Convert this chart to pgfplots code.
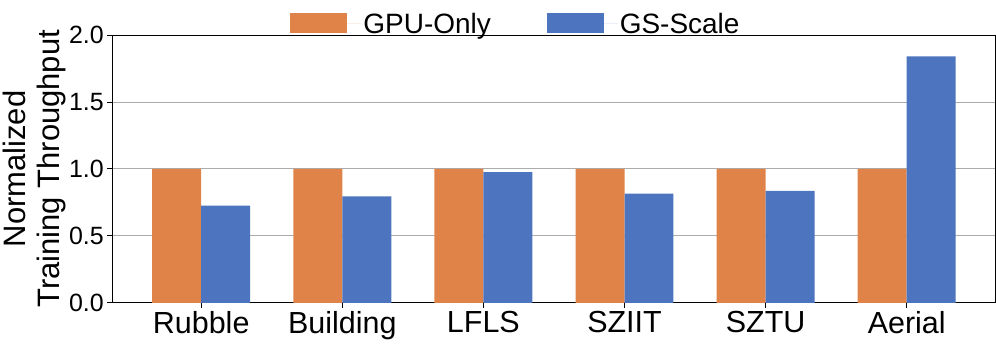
\documentclass[border=0pt]{standalone}
\usepackage{fontspec}
\setmainfont{Liberation Sans}
\usepackage{pgfplots}
\pgfplotsset{compat=1.18}

\definecolor{gpuorange}{RGB}{224,131,72}
\definecolor{gsblue}{RGB}{77,116,190}

\begin{document}
\begin{tikzpicture}
\begin{axis}[
    scale only axis,
    width=884pt, height=268pt,
    xmin=-0.63, xmax=5.63,
    ymin=0, ymax=2.0,
    ytick={0,0.5,1.0,1.5,2.0},
    yticklabel style={/pgf/number format/fixed,/pgf/number format/fixed zerofill,/pgf/number format/precision=1},
    /pgf/number format/assume math mode=true,
    xtick=data,
    xticklabels={Rubble,Building,LFLS,SZIIT,SZTU,Aerial},
    x tick label style={font=\fontsize{30.5}{33}\selectfont},
    y tick label style={font=\fontsize{25}{28}\selectfont},
    tick align=outside,
    ytick pos=left, xtick pos=bottom,
    major tick length=5pt,
    tick style={black, line width=0.8pt},
    ymajorgrids,
    grid style={gray!65, line width=0.8pt},
    axis line style={line width=0.8pt},
    ylabel={Normalized\\Training Throughput},
    ylabel style={font=\fontsize{31}{34}\selectfont, align=center, yshift=-4pt},
    ybar=0pt, bar width=49pt,
    legend style={at={(0.457,1.0)}, anchor=south, yshift=-4pt, draw=none, fill=none,
        legend columns=2, font=\fontsize{28}{30}\selectfont,
        /tikz/every even column/.append style={column sep=54pt}},
    legend image code/.code={\fill[#1] (0pt,-9pt) rectangle (57pt,11pt);
        \path (0pt,0pt) -- (71pt,0pt);},
    legend cell align=left,
]
\addplot[fill=gpuorange, draw=none] coordinates {(0,1.0) (1,1.0) (2,1.0) (3,1.0) (4,1.0) (5,1.0)};
\addplot[fill=gsblue, draw=none] coordinates {(0,0.725) (1,0.795) (2,0.975) (3,0.815) (4,0.835) (5,1.84)};
\legend{GPU-Only, GS-Scale}
\end{axis}
\path (current axis.north) ++(0pt,35pt) coordinate (pagetop);
\end{tikzpicture}
\end{document}
